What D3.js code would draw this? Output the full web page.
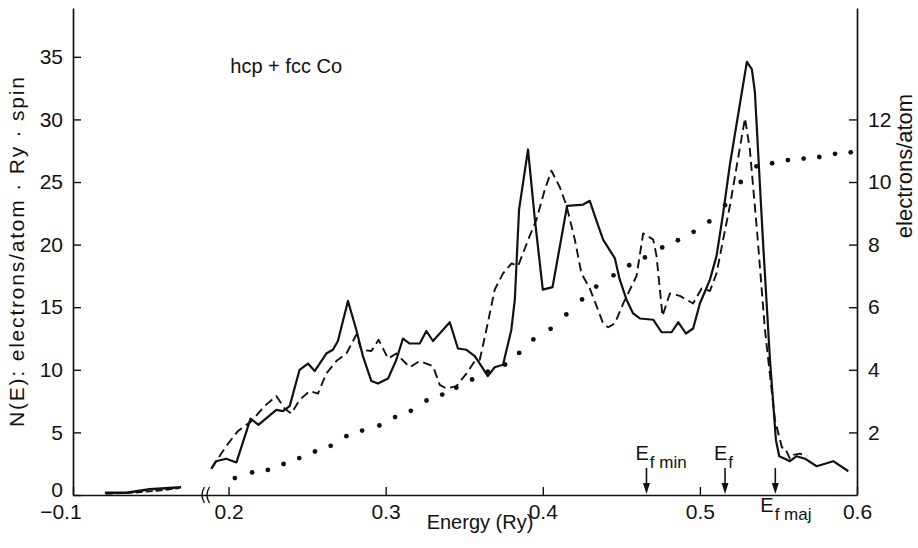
<!DOCTYPE html>
<html>
<head>
<meta charset="utf-8">
<script src="https://cdn.jsdelivr.net/npm/d3@7"></script>
<style>
  body { margin: 0; background: #fff; }
  svg text { font-family: "Liberation Sans", Arial, Helvetica, sans-serif; fill: #111; }
</style>
</head>
<body>
<svg id="chart" width="918" height="548"></svg>
<script>
// ---- axis tick values ----
const energyTicks = [-0.1, 0.2, 0.3, 0.4, 0.5, 0.6];
const dosTicks = [0, 5, 10, 15, 20, 25, 30, 35];
const countTicks = [2, 4, 6, 8, 10, 12];

// ---- density of states, solid curve (Ry, states/atom·Ry·spin) ----
const solidE = [
  0.189, 0.192, 0.1985, 0.205, 0.214, 0.219, 0.2304, 0.2346, 0.2389, 0.2452,
  0.2505, 0.2548, 0.2622, 0.2664, 0.2696, 0.276, 0.2813, 0.2855, 0.2909, 0.2951,
  0.3015, 0.3068, 0.311, 0.3153, 0.3217, 0.3259, 0.3301, 0.3408, 0.346, 0.3514,
  0.3567, 0.3599, 0.365, 0.3694, 0.3747, 0.38, 0.3822, 0.3849, 0.3906, 0.3949,
  0.4, 0.4062, 0.4155, 0.4257, 0.4299, 0.4342, 0.4384, 0.4459, 0.449, 0.4533,
  0.4575, 0.4618, 0.4703, 0.4756, 0.482, 0.4862, 0.4911, 0.4957, 0.5, 0.5064,
  0.5106, 0.5148, 0.5191, 0.5299, 0.5331, 0.535, 0.5401, 0.5446, 0.5484, 0.5505,
  0.5541, 0.5573, 0.5616, 0.5669, 0.5743, 0.5849, 0.5945
];
const solidN = [
  2.1, 2.7, 2.9, 2.6, 6.1, 5.6, 6.8, 6.7, 7.1, 10.0,
  10.5, 9.9, 11.3, 11.6, 12.3, 15.5, 13.2, 11.1, 9.1, 8.9,
  9.3, 10.8, 12.5, 12.1, 12.1, 13.1, 12.3, 13.8, 11.7, 11.6,
  11.1, 10.5, 9.5, 10.2, 10.4, 13.2, 15.6, 22.8, 27.6, 22.1,
  16.4, 16.6, 23.1, 23.2, 23.5, 21.9, 20.4, 18.9, 17.2, 15.6,
  14.5, 14.1, 14.0, 13.0, 13.0, 13.8, 12.9, 13.3, 15.3, 17.2,
  19.1, 22.5, 26.4, 34.6, 34.0, 32.2, 20.4, 10.8, 4.4, 3.1,
  2.9, 2.7, 3.1, 2.9, 2.3, 2.7, 1.9
];

// ---- density of states, dashed curve ----
const dashedE = [
  0.189, 0.1985, 0.2059, 0.2145, 0.2229, 0.2304, 0.2357, 0.2399, 0.2452, 0.2516,
  0.2569, 0.2622, 0.2686, 0.275, 0.2813, 0.2845, 0.2909, 0.2955, 0.3015, 0.3068,
  0.3153, 0.3217, 0.3301, 0.3344, 0.3387, 0.345, 0.3514, 0.3567, 0.3599, 0.3641,
  0.3694, 0.3747, 0.3801, 0.3843, 0.3917, 0.396, 0.4013, 0.4055, 0.4108, 0.4151,
  0.4204, 0.4246, 0.4299, 0.4342, 0.4384, 0.4416, 0.4459, 0.4512, 0.4597, 0.4639,
  0.4703, 0.4724, 0.4762, 0.4809, 0.4873, 0.4957, 0.5011, 0.5064, 0.5106, 0.5148,
  0.5191, 0.5287, 0.5318, 0.5363, 0.5414, 0.5478, 0.5522, 0.5541, 0.5573, 0.5594,
  0.5637, 0.5682
];
const dashedN = [
  2.1, 3.9, 5.1, 5.9, 7.1, 7.9, 6.9, 6.5, 7.6, 8.3,
  8.1, 9.7, 10.7, 11.3, 12.8, 11.6, 11.5, 12.4, 10.9, 11.3,
  10.2, 10.7, 10.3, 8.8, 8.5, 8.7, 9.7, 10.7, 10.8, 13.2,
  16.4, 17.7, 18.5, 18.3, 20.7, 22.0, 24.4, 25.9, 24.6, 23.1,
  20.4, 17.7, 16.5, 15.1, 13.7, 13.4, 13.7, 15.3, 17.5, 20.9,
  20.4, 19.1, 14.3, 16.1, 15.9, 15.3, 16.5, 16.3, 17.7, 20.4,
  23.1, 30.1, 27.6, 21.2, 13.2, 6.0, 3.8, 3.8, 2.9, 3.2,
  3.3, 3.1
];

// ---- low-lying band segment left of the axis break ----
const lowSolidE = [-0.0796, -0.0658, -0.051, -0.0308];
const lowSolidN = [0.18, 0.18, 0.46, 0.62];
const lowDashedE = [-0.079, -0.06, -0.045, -0.032];
const lowDashedN = [0.1, 0.2, 0.35, 0.55];

// ---- integrated electron count (right axis, electrons/atom) ----
const countE = [
  0.204, 0.215, 0.225, 0.235, 0.245, 0.255, 0.265, 0.275, 0.285, 0.296,
  0.306, 0.316, 0.326, 0.336, 0.345, 0.355, 0.365, 0.376, 0.385, 0.394,
  0.405, 0.415, 0.425, 0.434, 0.445, 0.455, 0.465, 0.476, 0.486, 0.496,
  0.506, 0.516, 0.526, 0.536, 0.546, 0.556, 0.566, 0.576, 0.586, 0.596
];
const countN = [
  0.54, 0.72, 0.80, 0.99, 1.18, 1.39, 1.57, 1.88, 2.06, 2.22,
  2.49, 2.69, 3.02, 3.21, 3.43, 3.69, 3.94, 4.17, 4.54, 4.97,
  5.31, 5.77, 6.25, 6.66, 7.02, 7.34, 7.59, 7.91, 8.14, 8.41,
  8.74, 9.26, 10.0, 10.5, 10.6, 10.7, 10.75, 10.8, 10.9, 10.95
];

// ---- Fermi level markers ----
const fermiE = [0.466, 0.516, 0.548];
const fermiSub = ["f min", "f", "f maj"];
const fermiBelow = [false, false, true];

// ---- scales ----
// Energy axis has a break: the gap from about -0.015 to 0.185 Ry is cut out.
const x = d3.scaleLinear()
  .domain([-0.1, -0.0155, 0.185, 0.6])
  .range([73, 205, 205, 857]);
const yTop = 38.9;
const yL = d3.scaleLinear().domain([0, yTop]).range([495, 8]);
const yR = d3.scaleLinear().domain([0, yTop / 2.5]).range([495, 8]);

const svg = d3.select("#chart");
const ink = "#111";
const tickFont = 21;

// ---- axes ----
const fmtE = d => (d < 0 ? "\u2212" + Math.abs(d).toFixed(1) : d.toFixed(1));

const gx = svg.append("g").attr("transform", "translate(0,495)")
  .call(d3.axisBottom(x).tickValues(energyTicks).tickFormat(fmtE)
    .tickSizeInner(-8).tickSizeOuter(0).tickPadding(9));
gx.selectAll(".tick text").filter(d => d < 0).attr("dx", "-0.6em");

const gl = svg.append("g").attr("transform", "translate(73,0)")
  .call(d3.axisLeft(yL).tickValues(dosTicks).tickFormat(d3.format("d"))
    .tickSizeInner(-8).tickSizeOuter(0).tickPadding(10));
gl.selectAll(".tick").filter(d => d === 0).select("text").attr("dy", "0.08em");

const gr = svg.append("g").attr("transform", "translate(857,0)")
  .call(d3.axisRight(yR).tickValues(countTicks).tickFormat(d3.format("d"))
    .tickSizeInner(-8).tickSizeOuter(0).tickPadding(11));

[gx, gl, gr].forEach(g => {
  g.select(".domain").attr("stroke", ink).attr("stroke-width", 1.7);
  g.selectAll(".tick line").attr("stroke", ink).attr("stroke-width", 1.4);
  g.selectAll(".tick text").attr("font-size", tickFont).attr("fill", ink)
    .style("font-family", "'Liberation Sans', Arial, sans-serif");
});

// axis break marks
const brk = svg.append("g").attr("fill", "none").attr("stroke", ink).attr("stroke-width", 1.4);
[-2.5, 2.5].forEach(off => {
  const bx = x(-0.0155) + off;
  brk.append("path").attr("d", `M${bx + 2},487 Q${bx - 3},495 ${bx + 2},503`);
});

// ---- curves ----
const zip = (a, b) => a.map((v, i) => [v, b[i]]);
const line = d3.line().x(d => x(d[0])).y(d => yL(d[1]));
const curves = svg.append("g").attr("fill", "none").attr("stroke", ink)
  .attr("stroke-linejoin", "round");

curves.append("path").attr("d", line(zip(dashedE, dashedN)))
  .attr("stroke-width", 1.9).attr("stroke-dasharray", "9,5");
curves.append("path").attr("d", line(zip(solidE, solidN)))
  .attr("stroke-width", 2.2);
curves.append("path").attr("d", line(zip(lowDashedE, lowDashedN)))
  .attr("stroke-width", 1.9).attr("stroke-dasharray", "7,3");
curves.append("path").attr("d", line(zip(lowSolidE, lowSolidN)))
  .attr("stroke-width", 2.4);

// integrated count as dots
svg.append("g").selectAll("circle").data(zip(countE, countN)).join("circle")
  .attr("cx", d => x(d[0])).attr("cy", d => yR(d[1])).attr("r", 2.4).attr("fill", ink);

// ---- Fermi level arrows ----
const fm = svg.append("g");
fermiE.forEach((e, i) => {
  const fx = x(e);
  fm.append("line").attr("x1", fx).attr("x2", fx).attr("y1", 468).attr("y2", 486)
    .attr("stroke", ink).attr("stroke-width", 1.6);
  fm.append("path").attr("d", `M${fx - 3.5},483 L${fx + 3.5},483 L${fx},494 Z`).attr("fill", ink);
  const below = fermiBelow[i];
  const t = fm.append("text")
    .attr("x", below ? fx - 15 : fx - 11)
    .attr("y", below ? 512 : 460)
    .attr("font-size", 20);
  t.append("tspan").text("E");
  t.append("tspan").attr("dy", 8).attr("dx", 1).attr("font-size", 17)
    .text(fermiSub[i]);
});

// ---- titles ----
svg.append("text").attr("x", 342).attr("y", 73).attr("text-anchor", "end")
  .attr("font-size", 20).text("hcp + fcc Co");

svg.append("text").attr("x", 480).attr("y", 529).attr("text-anchor", "middle")
  .attr("font-size", 20).text("Energy (Ry)");

svg.append("text").attr("transform", "translate(24,252) rotate(-90)")
  .attr("text-anchor", "middle").attr("font-size", 21)
  .attr("textLength", 350).attr("lengthAdjust", "spacing")
  .text("N(E): electrons/atom \u00b7 Ry \u00b7 spin");

svg.append("text").attr("transform", "translate(912,166) rotate(-90)")
  .attr("text-anchor", "middle").attr("font-size", 22)
  .text("electrons/atom");
</script>
</body>
</html>
